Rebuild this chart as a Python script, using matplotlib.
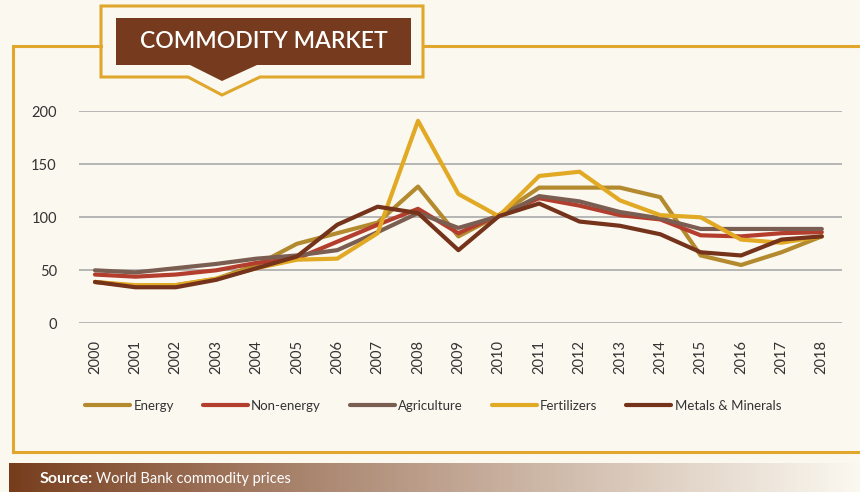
import numpy as np
import matplotlib.pyplot as plt
from matplotlib.patches import Polygon

# commodity price indices, 2010 = 100
years = list(range(2000, 2019))
energy = [39, 35, 36, 42, 55, 75, 85, 95, 129, 82, 102, 128, 128, 128, 119, 64, 55, 67, 82]
non_energy = [46, 44, 46, 50, 57, 61, 77, 93, 108, 85, 102, 118, 111, 102, 98, 83, 82, 85, 86]
agriculture = [50, 48, 52, 56, 61, 64, 69, 86, 104, 90, 101, 120, 115, 105, 99, 89, 89, 89, 89]
fertilizers = [39, 36, 36, 42, 52, 60, 61, 85, 191, 122, 101, 139, 143, 116, 102, 100, 79, 76, 82]
metals = [39, 34, 34, 41, 52, 63, 93, 110, 104, 69, 101, 113, 96, 92, 84, 67, 64, 79, 82]

series = [
    ("Energy", energy, "#B38A2E"),
    ("Non-energy", non_energy, "#B33E2E"),
    ("Agriculture", agriculture, "#7B5E52"),
    ("Fertilizers", fertilizers, "#E1A924"),
    ("Metals & Minerals", metals, "#75331B"),
]
yticks = [0, 50, 100, 150, 200]

bg = "#FBF8F0"
gold = "#E0A72C"
brown = "#763A1E"
font = "Lato"

W, H = 860, 492
fig = plt.figure(figsize=(W / 100, H / 100), dpi=100, facecolor=bg)

# overlay in pixel coordinates for the decorations
deco = fig.add_axes([0, 0, 1, 1], zorder=0)
deco.axis("off")

# gold frame
deco.plot([101, 12.5, 12.5, W], [46, 46, 452, 452], color=gold, lw=2.2, solid_joinstyle="miter")
deco.plot([423, W], [46, 46], color=gold, lw=2.2)
outline = Polygon([(101, 6), (423, 6), (423, 77), (260, 77), (222, 95), (188, 77), (101, 77)],
                  closed=True, fill=False, edgecolor=gold, lw=2.2, joinstyle="miter")
deco.add_patch(outline)
badge = Polygon([(116, 18), (411, 18), (411, 65), (257, 65), (222, 81), (190, 65), (116, 65)],
                closed=True, facecolor=brown, edgecolor="none")
deco.add_patch(badge)
deco.text(263.5, 42, "COMMODITY MARKET", color="white", fontsize=16.5, family=font,
          fontweight="semibold", ha="center", va="center")

# source bar with gradient
grad = np.linspace(0, 1, 256).reshape(1, -1)
c0 = np.array([0x76, 0x3C, 0x1C]) / 255
c1 = np.array([0xFB, 0xF8, 0xF0]) / 255
ramp = np.clip(grad ** 0.9, 0, 1)
img = c0[None, None, :] * (1 - ramp[..., None]) + c1[None, None, :] * ramp[..., None]
deco.imshow(img, extent=[9, W, 492, 463], aspect="auto", zorder=1)
deco.set_xlim(0, W)
deco.set_ylim(H, 0)
deco.text(40, 479, "Source:", color="white", fontsize=11.5, family=font, fontweight="bold",
          ha="left", va="center", zorder=2)
deco.text(96, 479, "World Bank commodity prices", color="white", fontsize=10.5, family=font,
          ha="left", va="center", zorder=2)

# main chart
left, right, top, bottom = 79, 842, 111.3, 323.3
ax = fig.add_axes([left / W, 1 - bottom / H, (right - left) / W, (bottom - top) / H], zorder=2)
ax.set_facecolor("none")
for name, vals, col in series:
    ax.plot(years, vals, color=col, lw=3, label=name, clip_on=False, solid_capstyle="round")

ax.set_xlim(2000 - 0.396, 2018.5)
ax.set_ylim(0, 200)
ax.set_yticks(yticks)
ax.set_xticks(years)
ax.set_xticklabels([str(y) for y in years], rotation=90, family=font, fontsize=10.5, color="#333333")
ax.set_yticklabels([str(v) for v in yticks], family=font, fontsize=10.5, color="#333333")
ax.tick_params(axis="both", length=0)
ax.tick_params(axis="y", pad=16)
ax.tick_params(axis="x", pad=12)
ax.grid(axis="y", color="#AAAAAA", lw=1.2)
ax.set_axisbelow(True)
for s in ax.spines.values():
    s.set_visible(False)

leg = ax.legend(loc="center left",
                bbox_to_anchor=((82.5 - left) / (right - left) - 0.012, (bottom - 406) / (bottom - top)),
                ncol=5, frameon=False, handlelength=3.4, handletextpad=0.25, columnspacing=2.2,
                prop={"family": font, "size": 9.5})
for t in leg.get_texts():
    t.set_color("#333333")

fig.savefig("out.png", dpi=100, facecolor=bg)
